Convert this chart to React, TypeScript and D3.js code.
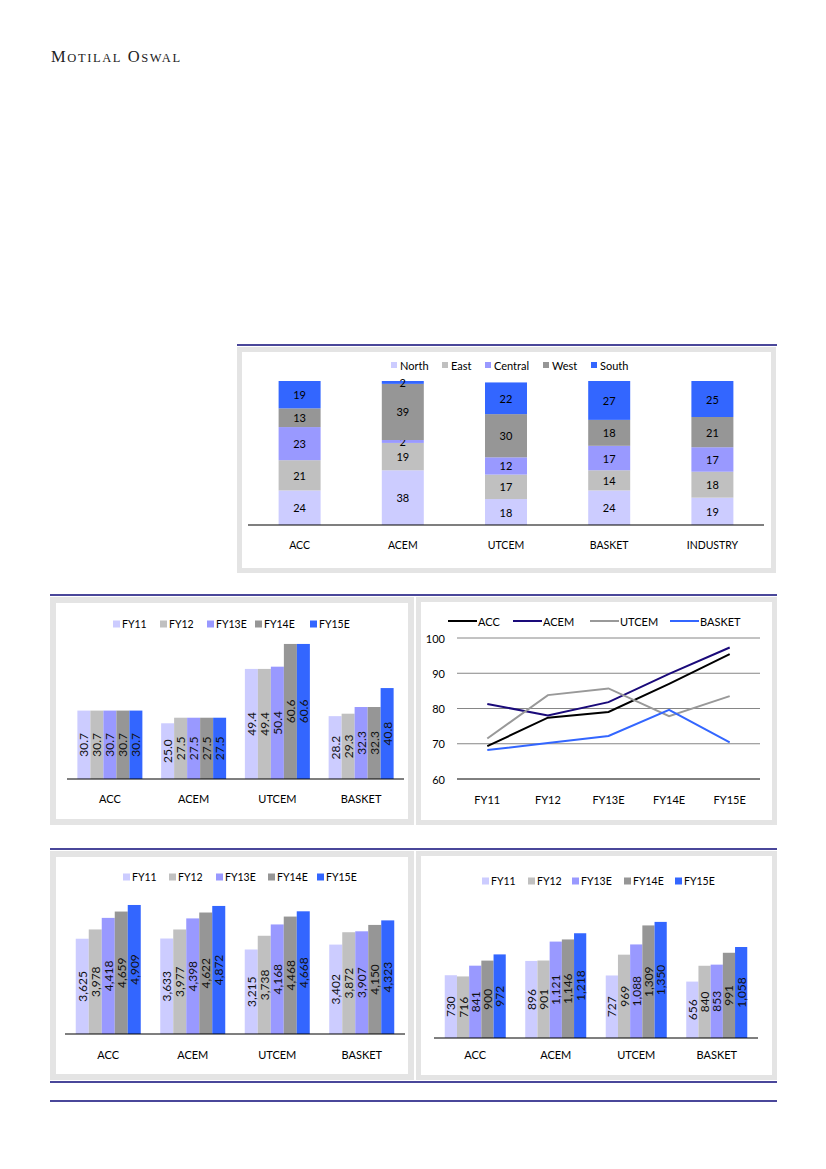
import React from "react";
import * as d3 from "d3";

const FONT = "Lato, 'Open Sans', sans-serif";
const NAVY = "#0E0A78";
const PANEL = "#E4E4E4";

// regional mix (stacked, %)
const mixCategories = ["ACC", "ACEM", "UTCEM", "BASKET", "INDUSTRY"];
const regions = ["North", "East", "Central", "West", "South"];
const northMix = [24, 38, 18, 24, 19];
const eastMix = [21, 19, 17, 14, 18];
const centralMix = [23, 2, 12, 17, 17];
const westMix = [13, 39, 30, 18, 21];
const southMix = [19, 2, 22, 27, 25];
const regionColors = ["#CCCCFF", "#C0C0C0", "#9999FF", "#969696", "#3366FF"];

// grouped bar charts
const companies = ["ACC", "ACEM", "UTCEM", "BASKET"];
const years = ["FY11", "FY12", "FY13E", "FY14E", "FY15E"];
const yearColors = ["#CCCCFF", "#C0C0C0", "#9999FF", "#969696", "#3366FF"];

const midAcc = [30.7, 30.7, 30.7, 30.7, 30.7];
const midAcem = [25.0, 27.5, 27.5, 27.5, 27.5];
const midUtcem = [49.4, 49.4, 50.4, 60.6, 60.6];
const midBasket = [28.2, 29.3, 32.3, 32.3, 40.8];

const lowAcc = [3625, 3978, 4418, 4659, 4909];
const lowAcem = [3633, 3977, 4398, 4622, 4872];
const lowUtcem = [3215, 3738, 4168, 4468, 4668];
const lowBasket = [3402, 3872, 3907, 4150, 4323];

const rightAcc = [730, 716, 841, 900, 972];
const rightAcem = [896, 901, 1121, 1146, 1218];
const rightUtcem = [727, 969, 1088, 1309, 1350];
const rightBasket = [656, 840, 853, 991, 1058];

// line chart
const lineNames = ["ACC", "ACEM", "UTCEM", "BASKET"];
const lineAcc = [69.3, 77.4, 79.0, 87.0, 95.4];
const lineAcem = [81.3, 78.0, 81.8, 89.8, 97.3];
const lineUtcem = [71.5, 83.8, 85.7, 77.8, 83.5];
const lineBasket = [68.2, 70.2, 72.2, 79.6, 70.4];
const lineColors = ["#000000", "#1A0A7A", "#999999", "#3366FF"];
const lineTicks = [60, 70, 80, 90, 100];

function Panel({ x, y, w, h, inset = 5 }: { x: number; y: number; w: number; h: number; inset?: number }) {
  return (
    <g>
      <rect x={x} y={y} width={w} height={h} fill={PANEL} />
      <rect x={x + inset} y={y + inset} width={w - inset * 2} height={h - inset * 2} fill="#fff" />
    </g>
  );
}

function StackedMix() {
  const rows = mixCategories.map((c, i) => ({
    cat: c,
    North: northMix[i],
    East: eastMix[i],
    Central: centralMix[i],
    West: westMix[i],
    South: southMix[i],
  }));
  const series = d3.stack<any>().keys(regions)(rows);
  const x = d3.scaleBand().domain(mixCategories).range([248, 764]);
  const y = d3.scaleLinear().domain([0, 100]).range([525, 381]);
  const bw = 42;
  const legendX = [391, 442, 485, 543, 591];
  return (
    <g fontFamily={FONT}>
      <Panel x={237} y={347} w={539} h={226} />
      {regions.map((r, i) => (
        <g key={r}>
          <rect x={legendX[i]} y={362} width={6} height={6} fill={regionColors[i]} />
          <text x={legendX[i] + 9} y={365} fontSize={11} dominantBaseline="central">{r}</text>
        </g>
      ))}
      {series.map((s, si) => (
        <g key={s.key}>
          {s.map((d, i) => {
            const cx = (x(mixCategories[i]) as number) + x.bandwidth() / 2;
            return (
              <g key={i}>
                <rect x={cx - bw / 2} y={y(d[1])} width={bw} height={y(d[0]) - y(d[1])} fill={regionColors[si]} />
                <text x={cx} y={(y(d[0]) + y(d[1])) / 2} fontSize={11} textAnchor="middle" dominantBaseline="central">
                  {d[1] - d[0]}
                </text>
              </g>
            );
          })}
        </g>
      ))}
      <line x1={248} x2={764} y1={525} y2={525} stroke="#000" strokeWidth={1.2} />
      {mixCategories.map((c) => (
        <text key={c} x={(x(c) as number) + x.bandwidth() / 2} y={545} fontSize={10.5} textAnchor="middle" dominantBaseline="central">
          {c}
        </text>
      ))}
    </g>
  );
}

type BarProps = {
  x0: number;
  x1: number;
  base: number;
  top: number;
  yMax: number;
  groupW: number;
  data: number[][];
  legendY: number;
  legendX: number[];
  catY: number;
  fmt: (v: number) => string;
};

function GroupedBars({ x0, x1, base, top, yMax, groupW, data, legendY, legendX, catY, fmt }: BarProps) {
  const x = d3.scaleBand().domain(companies).range([x0, x1]);
  const inner = d3.scaleBand().domain(years).range([0, groupW]);
  const y = d3.scaleLinear().domain([0, yMax]).range([base, top]);
  return (
    <g fontFamily={FONT}>
      {years.map((yr, i) => (
        <g key={yr}>
          <rect x={legendX[i]} y={legendY - 3.5} width={7} height={7} fill={yearColors[i]} />
          <text x={legendX[i] + 9} y={legendY} fontSize={10.5} dominantBaseline="central">{yr}</text>
        </g>
      ))}
      {companies.map((c, ci) => {
        const gx = (x(c) as number) + x.bandwidth() / 2 - groupW / 2;
        return (
          <g key={c}>
            {data[ci].map((v, i) => {
              const bx = gx + (inner(years[i]) as number);
              const bwid = inner.bandwidth();
              const cy = (y(v) + base) / 2;
              const cx = bx + bwid / 2;
              return (
                <g key={i}>
                  <rect x={bx} y={y(v)} width={bwid} height={base - y(v)} fill={yearColors[i]} />
                  <text
                    transform={`translate(${cx},${cy}) rotate(-90)`}
                    fontSize={12}
                    fill="#111"
                    textAnchor="middle"
                    dominantBaseline="central"
                  >
                    {fmt(v)}
                  </text>
                </g>
              );
            })}
            <text x={(x(c) as number) + x.bandwidth() / 2} y={catY} fontSize={11} textAnchor="middle" dominantBaseline="central">
              {c}
            </text>
          </g>
        );
      })}
      <line x1={x0 - 1} x2={x1 + 1} y1={base} y2={base} stroke="#000" strokeWidth={1.2} />
    </g>
  );
}

function LineTrend() {
  const x = d3.scalePoint().domain(years).range([457, 760]).padding(0.5);
  const y = d3.scaleLinear().domain([60, 100]).range([779, 638]);
  const all = [lineAcc, lineAcem, lineUtcem, lineBasket];
  const line = d3
    .line<number>()
    .x((_, i) => x(years[i]) as number)
    .y((d) => y(d));
  const legendLine = [448, 513, 590, 670];
  return (
    <g fontFamily={FONT}>
      {lineTicks.map((t) => (
        <g key={t}>
          <line x1={457} x2={760} y1={y(t)} y2={y(t)} stroke={t === 60 ? "#000" : "#868686"} strokeWidth={1} />
          <text x={445} y={y(t)} fontSize={11} textAnchor="end" dominantBaseline="central">{t}</text>
        </g>
      ))}
      {years.map((yr) => (
        <text key={yr} x={x(yr) as number} y={799} fontSize={11} textAnchor="middle" dominantBaseline="central">{yr}</text>
      ))}
      {all.map((vals, i) => (
        <path key={i} d={line(vals) as string} fill="none" stroke={lineColors[i]} strokeWidth={2} />
      ))}
      {lineNames.map((n, i) => (
        <g key={n}>
          <line x1={legendLine[i]} x2={legendLine[i] + 29} y1={621} y2={621} stroke={lineColors[i]} strokeWidth={2} />
          <text x={legendLine[i] + 30} y={621} fontSize={11} dominantBaseline="central">{n}</text>
        </g>
      ))}
    </g>
  );
}

export default function App() {
  const fmt1 = (v: number) => v.toFixed(1);
  const fmt0 = (v: number) => d3.format(",")(v);
  return (
    <div style={{ position: "absolute", left: 0, top: 0 }}>
      <svg width={826} height={1169} viewBox="0 0 826 1169" style={{ display: "block", background: "#fff" }}>
        <text
          x={51}
          y={61.5}
          fontFamily="'Liberation Serif', 'DejaVu Serif', serif"
          fill="#222"
          letterSpacing={1.6}
        >
          <tspan fontSize={16.5}>M</tspan>
          <tspan fontSize={12.5}>OTILAL</tspan>
          <tspan fontSize={16.5}> O</tspan>
          <tspan fontSize={12.5}>SWAL</tspan>
        </text>

        <line x1={237} x2={777} y1={345} y2={345} stroke={NAVY} strokeWidth={1.3} />
        <StackedMix />

        <line x1={50} x2={777} y1={595} y2={595} stroke={NAVY} strokeWidth={1.3} />
        <Panel x={50} y={597} w={364} h={228} inset={6} />
        <Panel x={416} y={597} w={361} h={228} inset={5} />
        <GroupedBars
          x0={68}
          x1={403}
          base={779}
          top={623}
          yMax={70}
          groupW={65}
          data={[midAcc, midAcem, midUtcem, midBasket]}
          legendY={624}
          legendX={[113, 160, 207, 255, 310]}
          catY={798}
          fmt={fmt1}
        />
        <LineTrend />

        <line x1={50} x2={777} y1={849} y2={849} stroke={NAVY} strokeWidth={1.3} />
        <Panel x={50} y={851} w={364} h={229} inset={6} />
        <Panel x={416} y={851} w={361} h={229} inset={5} />
        <GroupedBars
          x0={66}
          x1={404}
          base={1034}
          top={876.3}
          yMax={6000}
          groupW={65}
          data={[lowAcc, lowAcem, lowUtcem, lowBasket]}
          legendY={877}
          legendX={[123, 169, 216, 268, 317]}
          catY={1054}
          fmt={fmt0}
        />
        <GroupedBars
          x0={435}
          x1={757}
          base={1038}
          top={900.4}
          yMax={1600}
          groupW={61}
          data={[rightAcc, rightAcem, rightUtcem, rightBasket]}
          legendY={881}
          legendX={[482, 528, 572, 624, 675]}
          catY={1054}
          fmt={fmt0}
        />

        <line x1={50} x2={777} y1={1082} y2={1082} stroke={NAVY} strokeWidth={1.3} />
        <line x1={50} x2={777} y1={1101} y2={1101} stroke={NAVY} strokeWidth={1.3} />
      </svg>
    </div>
  );
}
